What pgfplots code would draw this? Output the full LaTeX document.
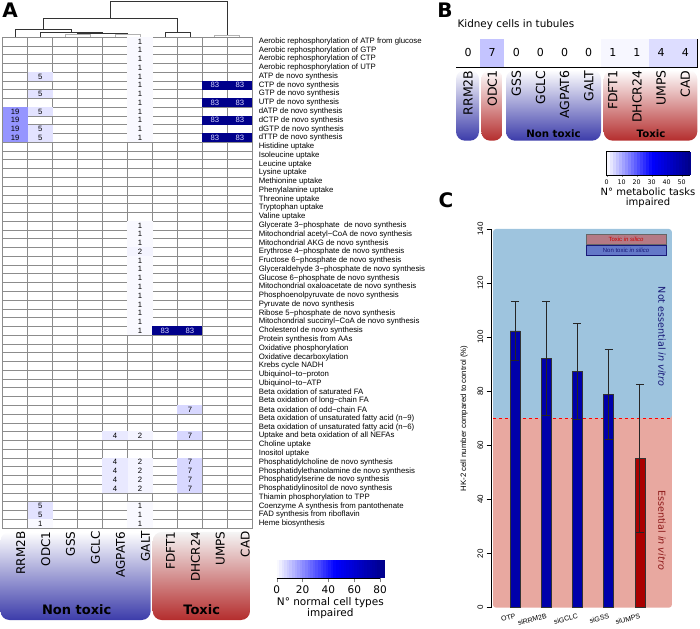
\documentclass[border=0pt]{standalone}
\usepackage{pgfplots}
\pgfplotsset{compat=1.18}
\usepackage{fontspec}
\setmainfont{Liberation Sans}
\newfontfamily\dv{DejaVu Sans}
\newcommand{\fs}[2]{\fontsize{#1}{#2}\selectfont}
\definecolor{cbg}{RGB}{158,196,222}
\definecolor{cpk}{RGB}{232,168,160}
\definecolor{bbar}{RGB}{0,0,170}
\definecolor{rbar}{RGB}{170,0,0}
\definecolor{ntblue}{RGB}{60,60,170}
\definecolor{txred}{RGB}{180,45,45}
\definecolor{navtxt}{RGB}{25,25,120}
\definecolor{redtxt}{RGB}{140,25,25}
\definecolor{lg1}{RGB}{180,122,133}
\definecolor{lg2}{RGB}{100,120,200}
\pgfplotsset{/pgf/number format/assume math mode=true,
  colormap={hm}{rgb255(0cm)=(255,255,255); rgb255(5.5cm)=(0,0,255); rgb255(10cm)=(0,0,139)}}
\pgfdeclareplotmark{hcell}{\pgfpathrectangle{\pgfpoint{-12.58pt}{-4.48pt}}{\pgfpoint{25.16pt}{8.96pt}}\pgfusepathqfill}
\pgfdeclareplotmark{bcell}{\pgfpathrectangle{\pgfpoint{-12.07pt}{-14pt}}{\pgfpoint{24.14pt}{28pt}}\pgfusepathqfill}
\pgfdeclareplotmark{cbA}{\pgfpathrectangle{\pgfpoint{-1.45pt}{-9pt}}{\pgfpoint{2.9pt}{18pt}}\pgfusepathqfill}
\pgfdeclareplotmark{cbB}{\pgfpathrectangle{\pgfpoint{-1.6pt}{-11.65pt}}{\pgfpoint{3.2pt}{23.3pt}}\pgfusepathqfill}
\pgfplotsset{numstyle/.style={only marks, mark=*, mark size=0pt, mark options={draw=none, fill=none},
  point meta=\thisrow{v}, nodes near coords, nodes near coords align={center}}}
\begin{document}
\begin{tikzpicture}
\useasboundingbox (0pt,0pt) rectangle (700pt,628pt);
% badges panel A
\shade[top color=white, bottom color=ntblue, rounded corners=9pt] (0.5pt,8pt) rectangle (150.7pt,96pt);
\shade[top color=gray!8, bottom color=txred, rounded corners=9pt] (152.7pt,8pt) rectangle (250pt,96pt);
\node[font=\dv\bfseries\fs{13}{15}] at (76.7pt,18pt) {Non toxic};
\node[font=\dv\bfseries\fs{13}{15}] at (201.7pt,18pt) {Toxic};
% badges panel B
\shade[top color=white, bottom color=ntblue, rounded corners=9pt] (456pt,487.3pt) rectangle (479pt,558pt);
\shade[top color=white, bottom color=txred, rounded corners=9pt] (481.3pt,487.3pt) rectangle (502.7pt,558pt);
\shade[top color=white, bottom color=ntblue, rounded corners=9pt] (506pt,487.3pt) rectangle (601pt,558pt);
\shade[top color=white, bottom color=txred, rounded corners=9pt] (603.7pt,487.3pt) rectangle (697.3pt,558pt);
\node[font=\dv\bfseries\fs{10.2}{12}] at (553.5pt,494.7pt) {Non toxic};
\node[font=\dv\bfseries\fs{10.2}{12}] at (651pt,494.7pt) {Toxic};
% panel letters
\node[font=\dv\bfseries\fs{20}{22}] at (10pt,618pt) {A};
\node[font=\dv\bfseries\fs{20}{22}] at (445pt,618pt) {B};
\node[font=\dv\bfseries\fs{20}{22}] at (446pt,427.5pt) {C};

% dendrogram
\begin{axis}[at={(2.7pt,591pt)}, anchor=south west, scale only axis, width=249.6pt, height=37pt,
  xmin=-0.5, xmax=9.5, ymin=0, ymax=37, hide axis, clip=false]
\addplot[gray!60, line width=0.8pt, mark=none] coordinates {(2,0) (2,2.5) (3,2.5) (3,0)};
\addplot[gray!60, line width=0.8pt, mark=none] coordinates {(4,0) (4,3) (5,3) (5,0)};
\addplot[black!80, line width=0.8pt, mark=none] coordinates {(2.5,2.5) (2.5,3.5) (4.5,3.5) (4.5,3)};
\addplot[black!80, line width=0.8pt, mark=none] coordinates {(1,0) (1,4.3) (3.5,4.3) (3.5,3.5)};
\addplot[black!80, line width=0.8pt, mark=none] coordinates {(0,0) (0,8) (2.25,8) (2.25,4.3)};
\addplot[black!80, line width=0.8pt, mark=none] coordinates {(6,0) (6,4.3) (7,4.3) (7,0)};
\addplot[gray!60, line width=0.8pt, mark=none] coordinates {(8,0) (8,2) (9,2) (9,0)};
\addplot[black!80, line width=0.8pt, mark=none] coordinates {(1.125,8) (1.125,18.7) (6.5,18.7) (6.5,4.3)};
\addplot[black!80, line width=0.8pt, mark=none] coordinates {(3.8125,18.7) (3.8125,35.3) (8.5,35.3) (8.5,2)};
\end{axis}

% heatmap A
\pgfplotstableread{
x y v
5 56 1
5 55 1
5 54 1
5 53 1
5 52 1
5 51 1
5 50 1
5 49 1
5 48 1
5 47 1
5 46 1
5 45 1
5 35 1
5 34 1
5 33 1
5 32 2
5 31 1
5 30 1
5 29 1
5 28 1
5 27 1
5 26 1
5 25 1
5 24 1
5 23 1
5 11 2
5 8 2
5 7 2
5 6 2
5 5 2
5 3 1
5 2 1
5 1 1
1 52 5
1 50 5
1 48 5
1 46 5
1 45 5
1 3 5
1 2 5
1 1 1
0 48 19
0 47 19
0 46 19
0 45 19
7 14 7
7 11 7
7 8 7
7 7 7
7 6 7
7 5 7
4 11 4
4 8 4
4 7 4
4 6 4
4 5 4
}\lowcells
\pgfplotstableread{
x y v
8 51 83
9 51 83
8 49 83
9 49 83
8 47 83
9 47 83
8 45 83
9 45 83
6 23 83
7 23 83
}\highcells
\begin{axis}[at={(2.7pt,100pt)}, anchor=south west, scale only axis, width=249.6pt, height=491pt,
  xmin=-0.5, xmax=9.5, ymin=0.5, ymax=56.5,
  colormap name=hm, point meta min=0, point meta max=83, axis on top,
  xtick={0,...,9}, xticklabels={RRM2B,ODC1,GSS,GCLC,AGPAT6,GALT,FDFT1,DHCR24,UMPS,CAD},
  xticklabel style={rotate=90, anchor=east, font=\dv\fs{12}{14}, yshift=-5.5pt},
  ytick={1,...,56}, yticklabel pos=right,
  yticklabel style={font=\fs{7.8}{9}, anchor=west, xshift=3pt},
  yticklabels={Heme biosynthesis,FAD synthesis from riboflavin,Coenzyme A synthesis from pantothenate,Thiamin phosphorylation to TPP,Phosphatidylinositol de novo synthesis,Phosphatidylserine de novo synthesis,Phosphatidylethanolamine de novo synthesis,Phosphatidylcholine de novo synthesis,Inositol uptake,Choline uptake,Uptake and beta oxidation of all NEFAs,Beta oxidation of unsaturated fatty acid (n−6),Beta oxidation of unsaturated fatty acid (n−9),Beta oxidation of odd−chain FA,Beta oxidation of long−chain FA,Beta oxidation of saturated FA,Ubiquinol−to−ATP,Ubiquinol−to−proton,Krebs cycle NADH,Oxidative decarboxylation,Oxidative phosphorylation,Protein synthesis from AAs,Cholesterol de novo synthesis,Mitochondrial succinyl−CoA de novo synthesis,Ribose 5−phosphate de novo synthesis,Pyruvate de novo synthesis,Phosphoenolpyruvate de novo synthesis,Mitochondrial oxaloacetate de novo synthesis,Glucose 6−phosphate de novo synthesis,Glyceraldehyde 3−phosphate de novo synthesis,Fructose 6−phosphate de novo synthesis,Erythrose 4−phosphate de novo synthesis,Mitochondrial AKG de novo synthesis,Mitochondrial acetyl−CoA de novo synthesis,Glycerate 3−phosphate~ de novo synthesis,Valine uptake,Tryptophan uptake,Threonine uptake,Phenylalanine uptake,Methionine uptake,Lysine uptake,Leucine uptake,Isoleucine uptake,Histidine uptake,dTTP de novo synthesis,dGTP de novo synthesis,dCTP de novo synthesis,dATP de novo synthesis,UTP de novo synthesis,GTP de novo synthesis,CTP de novo synthesis,ATP de novo synthesis,Aerobic rephosphorylation of UTP,Aerobic rephosphorylation of CTP,Aerobic rephosphorylation of GTP,Aerobic rephosphorylation of ATP from glucose},
  minor xtick={-0.5,0.5,...,9.5}, minor ytick={0.5,1.5,...,56.5},
  xminorgrids, yminorgrids, minor grid style={black!45, line width=0.5pt},
  major tick length=0pt, minor tick length=0pt,
  axis line style={black!45, line width=0.5pt}]
\addplot[scatter, only marks, mark=hcell, scatter/use mapped color={fill=mapped color, draw=none},
  point meta=\thisrow{v}] table {\lowcells};
\addplot[scatter, only marks, mark=hcell, scatter/use mapped color={fill=mapped color, draw=none},
  point meta=\thisrow{v}] table {\highcells};
\addplot[numstyle, every node near coord/.append style={font=\fs{7.7}{8}, text=black, inner sep=0pt}] table {\lowcells};
\addplot[numstyle, every node near coord/.append style={font=\fs{7.7}{8}, text=white!85!blue, inner sep=0pt}] table {\highcells};
\end{axis}

% colorbar A
\begin{axis}[at={(276.7pt,50pt)}, anchor=south west, scale only axis, width=107.3pt, height=18pt,
  xmin=0, xmax=83, ymin=0, ymax=1, colormap name=hm, point meta min=0, point meta max=83,
  axis y line=none, axis x line*=bottom, axis line style={-, shorten >=3.9pt},
  xtick={0,20,...,80}, tick align=outside, major tick length=4.4pt,
  xticklabel style={font=\dv\fs{10.5}{12}},
  xlabel={N° normal cell types\\impaired}, xlabel style={align=center, font=\dv\fs{10.5}{10.5}, yshift=3pt}]
\addplot[scatter, only marks, mark=cbA, scatter/use mapped color={fill=mapped color, draw=none}, point meta=x]
coordinates {(1,0.5) (3,0.5) (5,0.5) (7,0.5) (9,0.5) (11,0.5) (13,0.5) (15,0.5) (17,0.5) (19,0.5) (21,0.5) (23,0.5) (25,0.5) (27,0.5) (29,0.5) (31,0.5) (33,0.5) (35,0.5) (37,0.5) (39,0.5) (41,0.5) (43,0.5) (45,0.5) (47,0.5) (49,0.5) (51,0.5) (53,0.5) (55,0.5) (57,0.5) (59,0.5) (61,0.5) (63,0.5) (65,0.5) (67,0.5) (69,0.5) (71,0.5) (73,0.5) (75,0.5) (77,0.5) (79,0.5) (81,0.5) (83,0.5)};
\end{axis}

% panel B row
\node[anchor=west, font=\dv\fs{10.4}{12}] at (454pt,603pt) {Kidney cells in tubules};
\pgfplotstableread{
x y v
0 0.5 0
1 0.5 7
2 0.5 0
3 0.5 0
4 0.5 0
5 0.5 0
6 0.5 1
7 0.5 1
8 0.5 4
9 0.5 4
}\kidney
\begin{axis}[at={(456pt,561pt)}, anchor=south west, scale only axis, width=241.3pt, height=28pt,
  xmin=-0.5, xmax=9.5, ymin=0, ymax=1, colormap name=hm, point meta min=0, point meta max=55.1,
  axis on top, ytick=\empty,
  xtick={0,...,9}, xticklabels={RRM2B\hspace{16pt},ODC1\hspace{2pt},GSS,GCLC,AGPAT6,GALT,FDFT1,DHCR24,UMPS,CAD},
  xticklabel style={rotate=90, anchor=east, font=\dv\fs{12.5}{14}},
  minor xtick={0.5,1.5,...,8.5}, xminorgrids, minor grid style={black, line width=0.8pt},
  major tick length=0pt, minor tick length=0pt, axis line style={black, line width=0.8pt}]
\addplot[scatter, only marks, mark=bcell, scatter/use mapped color={fill=mapped color, draw=none},
  point meta=\thisrow{v}] table {\kidney};
\addplot[numstyle, every node near coord/.append style={font=\dv\fs{11}{12}, text=black}] table {\kidney};
\end{axis}

% colorbar B
\begin{axis}[at={(606.7pt,453pt)}, anchor=south west, scale only axis, width=82.6pt, height=23.3pt,
  xmin=0, xmax=55.1, ymin=0, ymax=1, colormap name=hm, point meta min=0, point meta max=55.1,
  axis on top, ytick=\empty, xtick={0,10,...,50}, xtick pos=left, tick align=outside, major tick length=2.5pt,
  xticklabel style={font=\dv\fs{6.3}{7}, yshift=1pt}, axis line style={black, line width=0.6pt},
  xlabel={N° metabolic tasks\\impaired}, xlabel style={align=center, font=\dv\fs{10}{10.5}, yshift=4pt}]
\addplot[scatter, only marks, mark=cbB, scatter/use mapped color={fill=mapped color, draw=none}, point meta=x]
coordinates {(1,0.5) (3,0.5) (5,0.5) (7,0.5) (9,0.5) (11,0.5) (13,0.5) (15,0.5) (17,0.5) (19,0.5) (21,0.5) (23,0.5) (25,0.5) (27,0.5) (29,0.5) (31,0.5) (33,0.5) (35,0.5) (37,0.5) (39,0.5) (41,0.5) (43,0.5) (45,0.5) (47,0.5) (49,0.5) (51,0.5) (53,0.5) (55,0.5)};
\addplot[cyan, line width=0.8pt, const plot, mark=none] coordinates {(0.2,0) (0.2,1) (1.5,0.04) (2.5,0.4) (3.6,0.04) (5.2,0.14) (6.3,0.04) (54.4,0.19) (55.1,0.19)};
\end{axis}

% panel C
\begin{axis}[at={(491.7pt,20.3pt)}, anchor=south west, scale only axis, width=180.2pt, height=378.7pt,
  xmin=0.253, xmax=6.03, ymin=0, ymax=140, clip=false,
  axis y line*=left, axis x line*=bottom, axis line style={-}, x axis line style={draw=none},
  ytick={0,20,...,140}, tick align=outside, major tick length=5pt,
  ytick style={black, line width=0.6pt}, y axis line style={black, line width=0.6pt},
  yticklabel style={rotate=90, anchor=south, font=\fs{8}{9}},
  xtick={1,...,5}, xticklabels={OTP,siRRM2B,siGCLC,siGSS,siUMPS}, xtick style={draw=none},
  xticklabel style={rotate=15, anchor=north east, font=\fs{7}{8}, xshift=3pt, yshift=3pt},
  ylabel={HK-2 cell number compared to control (\%)},
  ylabel style={at={(axis description cs:-0.153,0.5)}, anchor=center, font=\fs{7.8}{9}}]
\addplot[fill=cpk, draw=none, rounded corners=3pt, mark=none] coordinates {(0.295,0) (0.295,75) (6.03,75) (6.03,0)} -- cycle;
\addplot[fill=cbg, draw=none, rounded corners=3pt, mark=none] coordinates {(0.295,70) (0.295,140) (6.03,140) (6.03,70)} -- cycle;
\addplot[red, dashed, line width=0.6pt, mark=none] coordinates {(0.295,70) (6.03,70)};
\addplot[ybar, bar width=10pt, bar shift=0pt, fill=bbar, draw=black!80, line width=0.5pt,
  error bars/.cd, y dir=both, y explicit, error bar style={black!85, line width=0.6pt},
  error mark options={rotate=90, mark size=4pt, black!85, line width=0.6pt}]
table[x=x, y=y, y error=e] {
x y e
1 102.3 10.9
2 92.2 21.2
3 87.4 17.6
4 78.9 16.7
};
\addplot[ybar, bar width=10pt, bar shift=0pt, fill=rbar, draw=black!80, line width=0.5pt,
  error bars/.cd, y dir=both, y explicit, error bar style={black!85, line width=0.6pt},
  error mark options={rotate=90, mark size=4pt, black!85, line width=0.6pt}]
table[x=x, y=y, y error=e] {
x y e
5 55.3 27.4
};
\end{axis}
\node[draw=black!60, fill=lg1, minimum width=80pt, minimum height=10pt, inner sep=0pt, font=\fs{6}{7}, text=red!80!black] at (626pt,388.8pt) {Toxic \textit{in silico}};
\node[draw=navtxt, fill=lg2, minimum width=80pt, minimum height=10pt, inner sep=0pt, font=\fs{6}{7}, text=navtxt] at (626pt,377.7pt) {Non toxic \textit{in silico}};
\node[rotate=-90, text=navtxt, font=\dv\fs{9.6}{11}] at (662pt,291.3pt) {Not essential \textit{in vitro}};
\node[rotate=-90, text=redtxt, font=\dv\fs{9.6}{11}] at (662pt,98pt) {Essential \textit{in vitro}};
\end{tikzpicture}
\end{document}
